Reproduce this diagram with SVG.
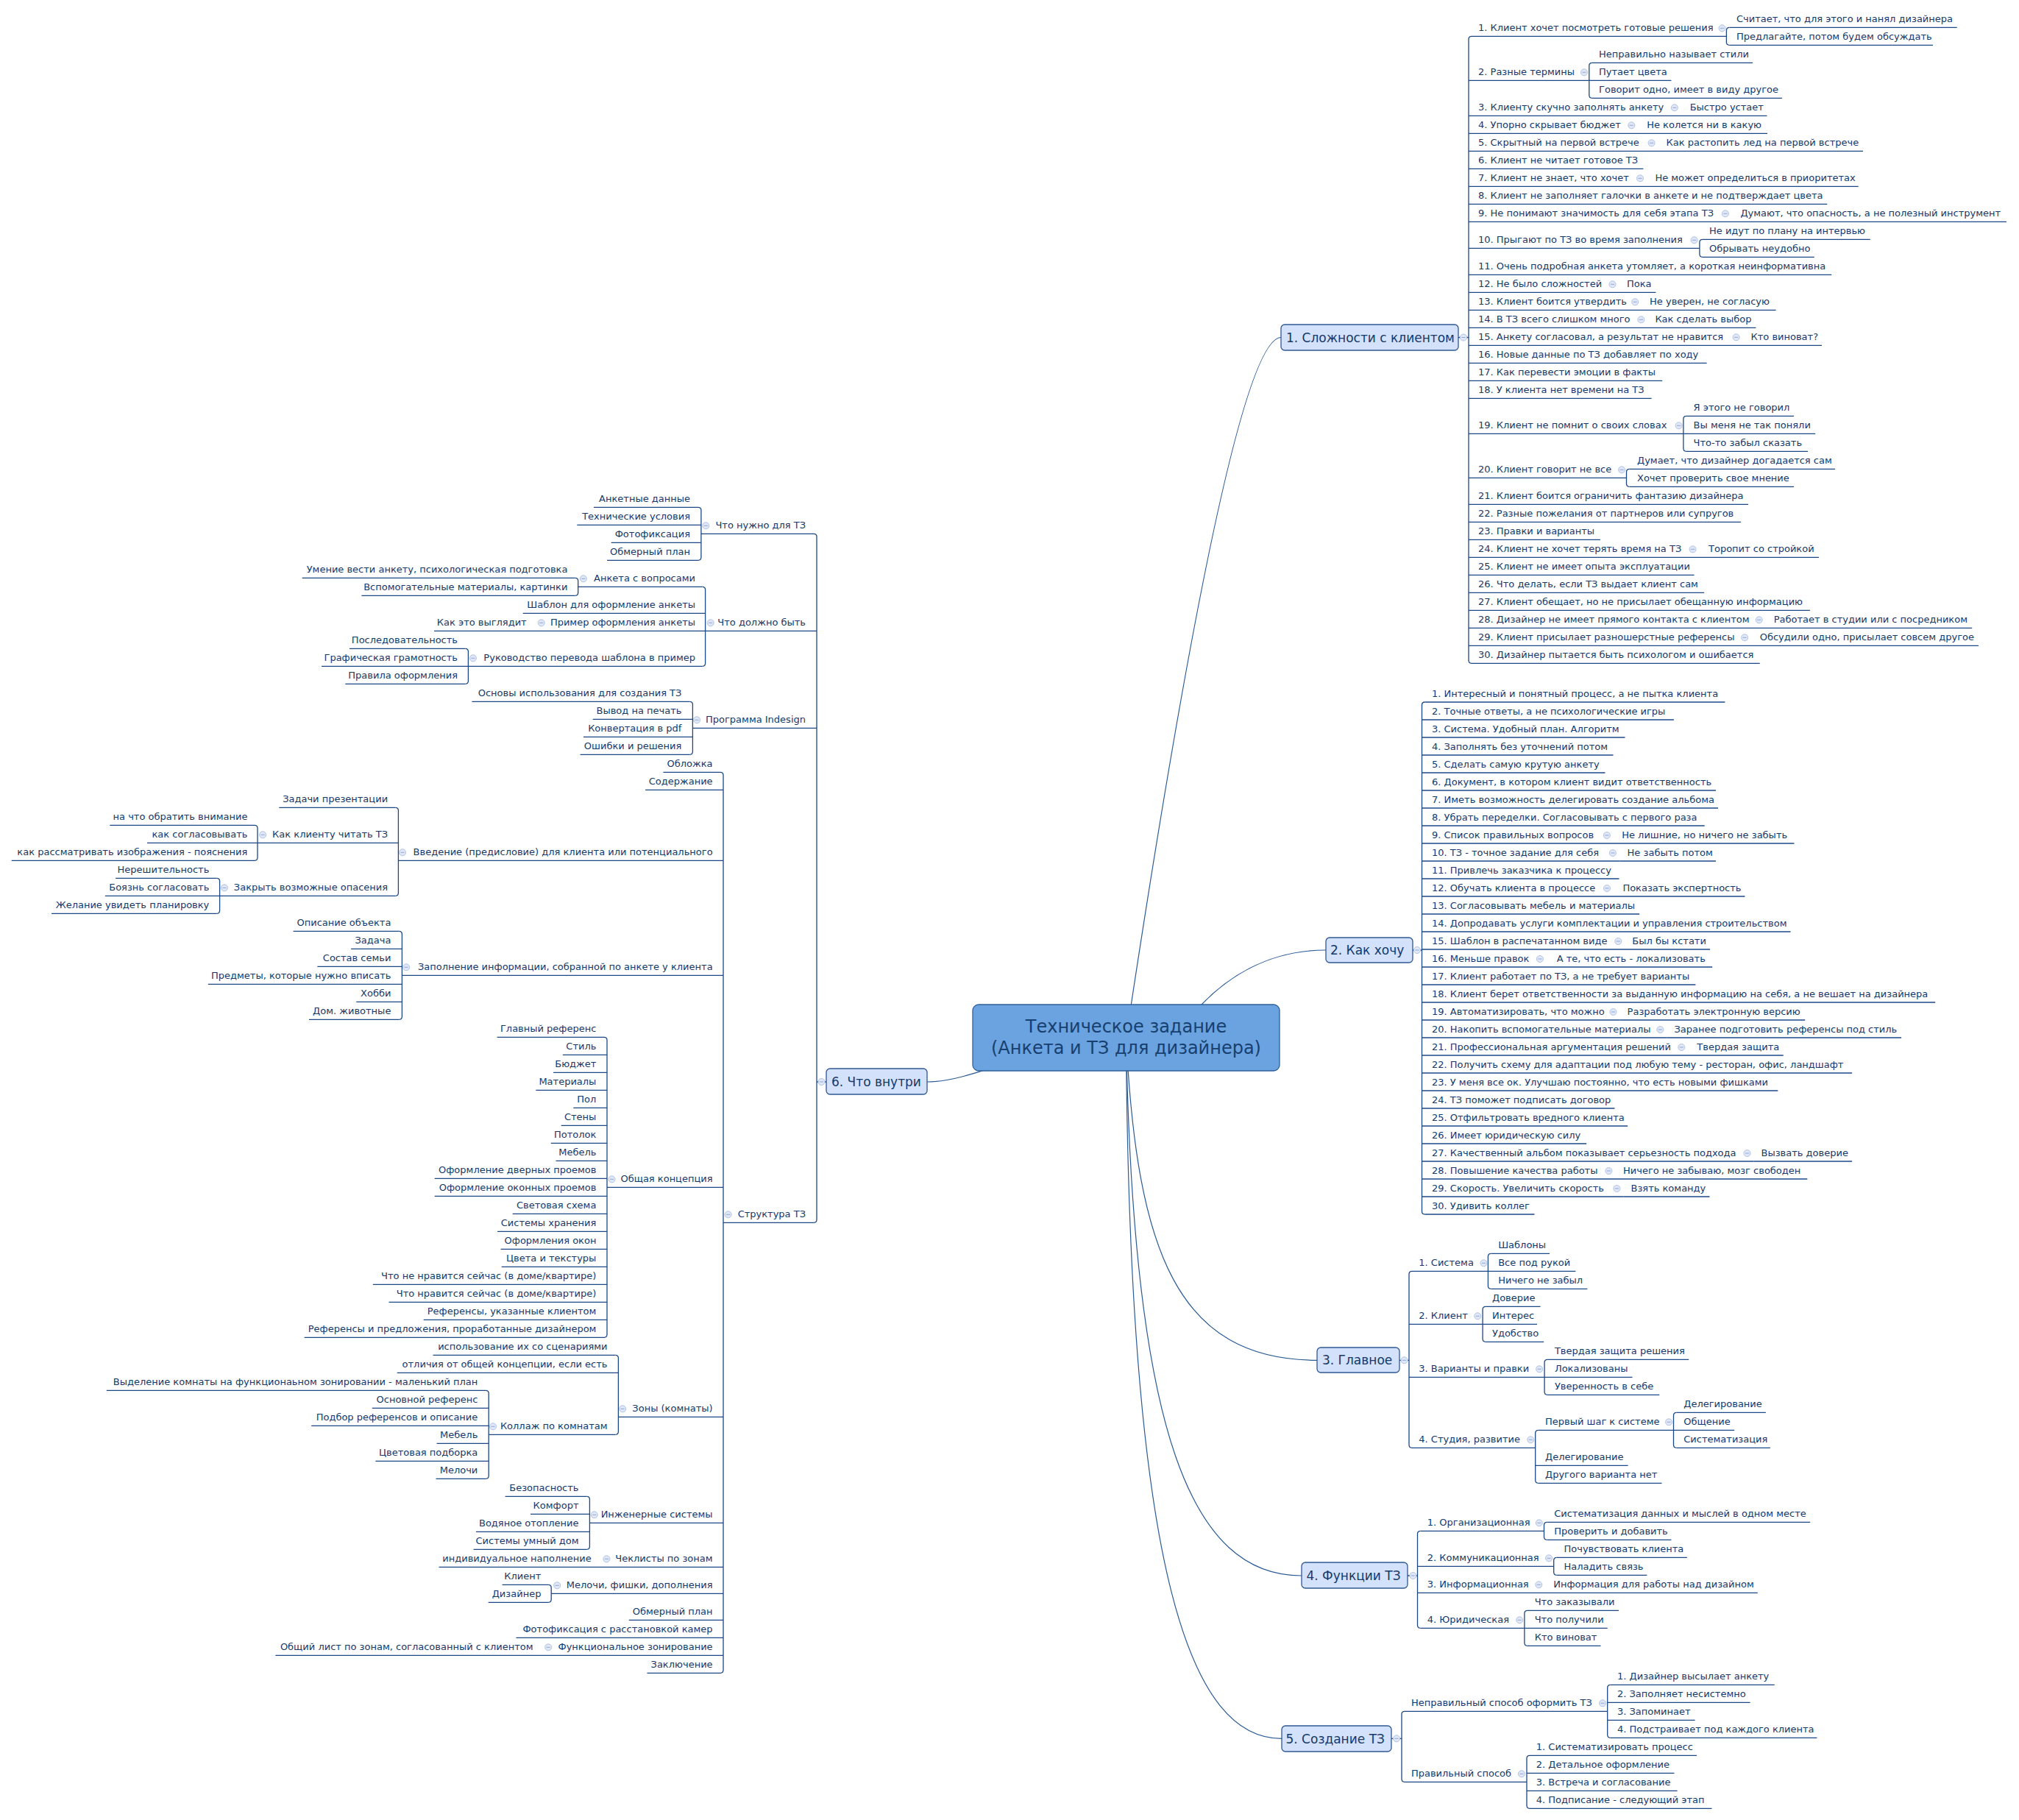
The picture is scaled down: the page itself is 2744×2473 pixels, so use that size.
<svg xmlns="http://www.w3.org/2000/svg" xmlns:xlink="http://www.w3.org/1999/xlink" width="2744" height="2473" viewBox="0 0 2744 2473">
<style>
.t{font-family:"DejaVu Sans",Verdana,sans-serif;font-size:13px;fill:#15396b}
.r{text-anchor:end}
.bt{font-family:"DejaVu Sans",Verdana,sans-serif;font-size:17px;fill:#15396b}
.rt{font-family:"DejaVu Sans",Verdana,sans-serif;font-size:24px;fill:#173f6f;text-anchor:middle}
.u,.v{fill:none;stroke:#1c4886;stroke-width:1.3}
.k{fill:none;stroke:#2b5b97;stroke-width:1.2}
.bn{fill:#d4e1fa;stroke:#2f5894;stroke-width:1.3}
.rn{fill:#6aa3df;stroke:#2f5f9a;stroke-width:1.3}
</style>
<defs>
<g id="cb"><circle r="4.5" fill="#e0e8f8" stroke="#b0c2e3" stroke-width="1"/><path d="M-2.5 0H2.5" stroke="#8fa6d4" stroke-width="1"/></g>
</defs>
<rect width="2744" height="2473" fill="#ffffff"/>
<g id="connectors">
<path class="k" d="M1530.5 1410Q1674 458.5 1741 458.5"/>
<path class="k" d="M1600 1400L1633 1365C1665 1332 1720 1291 1802 1291"/>
<path class="k" d="M1530.5 1410C1545 1700 1600 1848.3 1790 1848.3"/>
<path class="k" d="M1530.5 1410C1540 1950 1620 2141 1769 2141"/>
<path class="k" d="M1530.5 1410C1535 2150 1620 2362.3 1742 2362.3"/>
<path class="k" d="M1530.5 1410C1420 1410 1330 1470 1260 1470"/>
<path class="v" d="M1982 458.5H1996M2000 49.3Q1996 49.3 1996 53.3V897.3Q1996 901.3 2000 901.3"/>
<path class="v" d="M2350.4 37.3Q2346.4 37.3 2346.4 41.3V57.3Q2346.4 61.3 2350.4 61.3"/>
<path class="v" d="M2163.8 85.3Q2159.8 85.3 2159.8 89.3V129.3Q2159.8 133.3 2163.8 133.3"/>
<path class="v" d="M2313.9 325.3Q2309.9 325.3 2309.9 329.3V345.3Q2309.9 349.3 2313.9 349.3"/>
<path class="v" d="M2291.9 565.3Q2287.9 565.3 2287.9 569.3V609.3Q2287.9 613.3 2291.9 613.3"/>
<path class="v" d="M2214.5 637.3Q2210.5 637.3 2210.5 641.3V657.3Q2210.5 661.3 2214.5 661.3"/>
<path class="v" d="M1920 1291H1932.5M1936.5 954Q1932.5 954 1932.5 958V1646Q1932.5 1650 1936.5 1650"/>
<path class="v" d="M1902 1848.3H1915M1919 1727.3Q1915 1727.3 1915 1731.3V1963.3Q1915 1967.3 1919 1967.3"/>
<path class="v" d="M2026.4 1703.3Q2022.4 1703.3 2022.4 1707.3V1747.3Q2022.4 1751.3 2026.4 1751.3"/>
<path class="v" d="M2019.1 1775.3Q2015.1 1775.3 2015.1 1779.3V1819.3Q2015.1 1823.3 2019.1 1823.3"/>
<path class="v" d="M2103.1 1847.3Q2099.1 1847.3 2099.1 1851.3V1891.3Q2099.1 1895.3 2103.1 1895.3"/>
<path class="v" d="M2090.7 1943.3Q2086.7 1943.3 2086.7 1947.3V2011.3Q2086.7 2015.3 2090.7 2015.3"/>
<path class="v" d="M2278.5 1919.3Q2274.5 1919.3 2274.5 1923.3V1963.3Q2274.5 1967.3 2278.5 1967.3"/>
<path class="v" d="M1913 2141H1926.5M1930.5 2080.3Q1926.5 2080.3 1926.5 2084.3V2208.3Q1926.5 2212.3 1930.5 2212.3"/>
<path class="v" d="M2102.5 2068.3Q2098.5 2068.3 2098.5 2072.3V2088.3Q2098.5 2092.3 2102.5 2092.3"/>
<path class="v" d="M2115.7 2116.3Q2111.7 2116.3 2111.7 2120.3V2136.3Q2111.7 2140.3 2115.7 2140.3"/>
<path class="v" d="M2075.9 2188.3Q2071.9 2188.3 2071.9 2192.3V2232.3Q2071.9 2236.3 2075.9 2236.3"/>
<path class="v" d="M1891 2362.3H1905M1909 2325.3Q1905 2325.3 1905 2329.3V2417.3Q1905 2421.3 1909 2421.3"/>
<path class="v" d="M2188.7 2289.3Q2184.7 2289.3 2184.7 2293.3V2357.3Q2184.7 2361.3 2188.7 2361.3"/>
<path class="v" d="M2079 2385.3Q2075 2385.3 2075 2389.3V2453.3Q2075 2457.3 2079 2457.3"/>
<path class="v" d="M1123 1470H1110M1106 725.3Q1110 725.3 1110 729.3V1657.3Q1110 1661.3 1106 1661.3"/>
<path class="v" d="M948.9 689.3Q952.9 689.3 952.9 693.3V757.3Q952.9 761.3 948.9 761.3"/>
<path class="v" d="M954.6 797.3Q958.6 797.3 958.6 801.3V901.3Q958.6 905.3 954.6 905.3"/>
<path class="v" d="M781.7 785.3Q785.7 785.3 785.7 789.3V805.3Q785.7 809.3 781.7 809.3"/>
<path class="v" d="M632.4 881.3Q636.4 881.3 636.4 885.3V925.3Q636.4 929.3 632.4 929.3"/>
<path class="v" d="M937.4 953.3Q941.4 953.3 941.4 957.3V1021.3Q941.4 1025.3 937.4 1025.3"/>
<path class="v" d="M979 1049.3Q983 1049.3 983 1053.3V2269.3Q983 2273.3 979 2273.3"/>
<path class="v" d="M537.4 1097.3Q541.4 1097.3 541.4 1101.3V1213.3Q541.4 1217.3 537.4 1217.3"/>
<path class="v" d="M346 1121.3Q350 1121.3 350 1125.3V1165.3Q350 1169.3 346 1169.3"/>
<path class="v" d="M294.6 1193.3Q298.6 1193.3 298.6 1197.3V1237.3Q298.6 1241.3 294.6 1241.3"/>
<path class="v" d="M542.4 1265.3Q546.4 1265.3 546.4 1269.3V1381.3Q546.4 1385.3 542.4 1385.3"/>
<path class="v" d="M821 1409.3Q825 1409.3 825 1413.3V1813.3Q825 1817.3 821 1817.3"/>
<path class="v" d="M836.4 1841.3Q840.4 1841.3 840.4 1845.3V1945.3Q840.4 1949.3 836.4 1949.3"/>
<path class="v" d="M660.2 1889.3Q664.2 1889.3 664.2 1893.3V2005.3Q664.2 2009.3 660.2 2009.3"/>
<path class="v" d="M797.4 2033.3Q801.4 2033.3 801.4 2037.3V2101.3Q801.4 2105.3 797.4 2105.3"/>
<path class="v" d="M745.2 2153.3Q749.2 2153.3 749.2 2157.3V2173.3Q749.2 2177.3 745.2 2177.3"/>
</g>
<g id="root"><rect class="rn" x="1322" y="1365" width="417" height="90" rx="8"/><text class="rt" x="1530.5" y="1403">Техническое задание</text><text class="rt" x="1530.5" y="1432">(Анкета и ТЗ для дизайнера)</text></g>
<g id="b1"><rect class="bn" x="1741" y="441" width="241" height="35" rx="5"/><text class="bt" x="1748" y="464.5">1. Сложности с клиентом</text><use href="#cb" x="1989" y="458.5"/></g>
<g id="b1-1"><text class="t" x="2009" y="42.3">1. Клиент хочет посмотреть готовые решения</text><use href="#cb" x="2340.5" y="38.3"/><path class="u" d="M2000 49.3H2346.4"/></g>
<g id="b1-1-1"><text class="t" x="2360" y="30.3">Считает, что для этого и нанял дизайнера</text><path class="u" d="M2350.4 37.3H2659.7"/></g>
<g id="b1-1-2"><text class="t" x="2360" y="54.3">Предлагайте, потом будем обсуждать</text><path class="u" d="M2350.4 61.3H2627"/></g>
<g id="b1-2"><text class="t" x="2009" y="102.3">2. Разные термины</text><use href="#cb" x="2153" y="98.3"/><path class="u" d="M1996 109.3H2159.8"/></g>
<g id="b1-2-1"><text class="t" x="2173" y="78.3">Неправильно называет стили</text><path class="u" d="M2163.8 85.3H2382"/></g>
<g id="b1-2-2"><text class="t" x="2173" y="102.3">Путает цвета</text><path class="u" d="M2159.8 109.3H2271.4"/></g>
<g id="b1-2-3"><text class="t" x="2173" y="126.3">Говорит одно, имеет в виду другое</text><path class="u" d="M2163.8 133.3H2421.9"/></g>
<g id="b1-3"><text class="t" x="2009" y="150.3">3. Клиенту скучно заполнять анкету</text><use href="#cb" x="2275.8" y="146.3"/><path class="u" d="M1996 157.3H2287"/></g>
<g id="b1-3-1"><text class="t" x="2296.7" y="150.3">Быстро устает</text><path class="u" d="M2287 157.3H2401.5"/></g>
<g id="b1-4"><text class="t" x="2009" y="174.3">4. Упорно скрывает бюджет</text><use href="#cb" x="2217.3" y="170.3"/><path class="u" d="M1996 181.3H2228"/></g>
<g id="b1-4-1"><text class="t" x="2238.2" y="174.3">Не колется ни в какую</text><path class="u" d="M2228 181.3H2402"/></g>
<g id="b1-5"><text class="t" x="2009" y="198.3">5. Скрытный на первой встрече</text><use href="#cb" x="2244.6" y="194.3"/><path class="u" d="M1996 205.3H2254"/></g>
<g id="b1-5-1"><text class="t" x="2264.5" y="198.3">Как растопить лед на первой встрече</text><path class="u" d="M2254 205.3H2532"/></g>
<g id="b1-6"><text class="t" x="2009" y="222.3">6. Клиент не читает готовое ТЗ</text><path class="u" d="M1996 229.3H2233.4"/></g>
<g id="b1-7"><text class="t" x="2009" y="246.3">7. Клиент не знает, что хочет</text><use href="#cb" x="2229" y="242.3"/><path class="u" d="M1996 253.3H2239"/></g>
<g id="b1-7-1"><text class="t" x="2249.4" y="246.3">Не может определиться в приоритетах</text><path class="u" d="M2239 253.3H2525.7"/></g>
<g id="b1-8"><text class="t" x="2009" y="270.3">8. Клиент не заполняет галочки в анкете и не подтверждает цвета</text><path class="u" d="M1996 277.3H2483.3"/></g>
<g id="b1-9"><text class="t" x="2009" y="294.3">9. Не понимают значимость для себя этапа ТЗ</text><use href="#cb" x="2344.9" y="290.3"/><path class="u" d="M1996 301.3H2355"/></g>
<g id="b1-9-1"><text class="t" x="2365.4" y="294.3">Думают, что опасность, а не полезный инструмент</text><path class="u" d="M2355 301.3H2726.9"/></g>
<g id="b1-10"><text class="t" x="2009" y="330.3">10. Прыгают по ТЗ во время заполнения</text><use href="#cb" x="2302.6" y="326.3"/><path class="u" d="M1996 337.3H2309.9"/></g>
<g id="b1-10-1"><text class="t" x="2323" y="318.3">Не идут по плану на интервью</text><path class="u" d="M2313.9 325.3H2541.8"/></g>
<g id="b1-10-2"><text class="t" x="2323" y="342.3">Обрывать неудобно</text><path class="u" d="M2313.9 349.3H2465.8"/></g>
<g id="b1-11"><text class="t" x="2009" y="366.3">11. Очень подробная анкета утомляет, а короткая неинформативна</text><path class="u" d="M1996 373.3H2489.2"/></g>
<g id="b1-12"><text class="t" x="2009" y="390.3">12. Не было сложностей</text><use href="#cb" x="2191.5" y="386.3"/><path class="u" d="M1996 397.3H2201"/></g>
<g id="b1-12-1"><text class="t" x="2211" y="390.3">Пока</text><path class="u" d="M2201 397.3H2250.4"/></g>
<g id="b1-13"><text class="t" x="2009" y="414.3">13. Клиент боится утвердить</text><use href="#cb" x="2222.2" y="410.3"/><path class="u" d="M1996 421.3H2232"/></g>
<g id="b1-13-1"><text class="t" x="2242.1" y="414.3">Не уверен, не согласую</text><path class="u" d="M2232 421.3H2413.6"/></g>
<g id="b1-14"><text class="t" x="2009" y="438.3">14. В ТЗ всего слишком много</text><use href="#cb" x="2230.4" y="434.3"/><path class="u" d="M1996 445.3H2239"/></g>
<g id="b1-14-1"><text class="t" x="2249.4" y="438.3">Как сделать выбор</text><path class="u" d="M2239 445.3H2386.4"/></g>
<g id="b1-15"><text class="t" x="2009" y="462.3">15. Анкету согласовал, а результат не нравится</text><use href="#cb" x="2359.6" y="458.3"/><path class="u" d="M1996 469.3H2369"/></g>
<g id="b1-15-1"><text class="t" x="2379.5" y="462.3">Кто виноват?</text><path class="u" d="M2369 469.3H2476"/></g>
<g id="b1-16"><text class="t" x="2009" y="486.3">16. Новые данные по ТЗ добавляет по ходу</text><path class="u" d="M1996 493.3H2319.6"/></g>
<g id="b1-17"><text class="t" x="2009" y="510.3">17. Как перевести эмоции в факты</text><path class="u" d="M1996 517.3H2259.2"/></g>
<g id="b1-18"><text class="t" x="2009" y="534.3">18. У клиента нет времени на ТЗ</text><path class="u" d="M1996 541.3H2244.6"/></g>
<g id="b1-19"><text class="t" x="2009" y="582.3">19. Клиент не помнит о своих словах</text><use href="#cb" x="2281.6" y="578.3"/><path class="u" d="M1996 589.3H2287.9"/></g>
<g id="b1-19-1"><text class="t" x="2301.6" y="558.3">Я этого не говорил</text><path class="u" d="M2291.9 565.3H2438"/></g>
<g id="b1-19-2"><text class="t" x="2301.6" y="582.3">Вы меня не так поняли</text><path class="u" d="M2287.9 589.3H2467.2"/></g>
<g id="b1-19-3"><text class="t" x="2301.6" y="606.3">Что-то забыл сказать</text><path class="u" d="M2291.9 613.3H2457"/></g>
<g id="b1-20"><text class="t" x="2009" y="642.3">20. Клиент говорит не все</text><use href="#cb" x="2204.1" y="638.3"/><path class="u" d="M1996 649.3H2210.5"/></g>
<g id="b1-20-1"><text class="t" x="2225" y="630.3">Думает, что дизайнер догадается сам</text><path class="u" d="M2214.5 637.3H2494"/></g>
<g id="b1-20-2"><text class="t" x="2225" y="654.3">Хочет проверить свое мнение</text><path class="u" d="M2214.5 661.3H2438"/></g>
<g id="b1-21"><text class="t" x="2009" y="678.3">21. Клиент боится ограничить фантазию дизайнера</text><path class="u" d="M1996 685.3H2376.1"/></g>
<g id="b1-22"><text class="t" x="2009" y="702.3">22. Разные пожелания от партнеров или супругов</text><path class="u" d="M1996 709.3H2365.9"/></g>
<g id="b1-23"><text class="t" x="2009" y="726.3">23. Правки и варианты</text><path class="u" d="M1996 733.3H2174.9"/></g>
<g id="b1-24"><text class="t" x="2009" y="750.3">24. Клиент не хочет терять время на ТЗ</text><use href="#cb" x="2300.6" y="746.3"/><path class="u" d="M1996 757.3H2311"/></g>
<g id="b1-24-1"><text class="t" x="2322" y="750.3">Торопит со стройкой</text><path class="u" d="M2311 757.3H2472.1"/></g>
<g id="b1-25"><text class="t" x="2009" y="774.3">25. Клиент не имеет опыта эксплуатации</text><path class="u" d="M1996 781.3H2302.6"/></g>
<g id="b1-26"><text class="t" x="2009" y="798.3">26. Что делать, если ТЗ выдает клиент сам</text><path class="u" d="M1996 805.3H2316.2"/></g>
<g id="b1-27"><text class="t" x="2009" y="822.3">27. Клиент обещает, но не присылает обещанную информацию</text><path class="u" d="M1996 829.3H2459.9"/></g>
<g id="b1-28"><text class="t" x="2009" y="846.3">28. Дизайнер не имеет прямого контакта с клиентом</text><use href="#cb" x="2390.7" y="842.3"/><path class="u" d="M1996 853.3H2400"/></g>
<g id="b1-28-1"><text class="t" x="2410.7" y="846.3">Работает в студии или с посредником</text><path class="u" d="M2400 853.3H2680.2"/></g>
<g id="b1-29"><text class="t" x="2009" y="870.3">29. Клиент присылает разношерстные референсы</text><use href="#cb" x="2371.2" y="866.3"/><path class="u" d="M1996 877.3H2381"/></g>
<g id="b1-29-1"><text class="t" x="2391.7" y="870.3">Обсудили одно, присылает совсем другое</text><path class="u" d="M2381 877.3H2688.9"/></g>
<g id="b1-30"><text class="t" x="2009" y="894.3">30. Дизайнер пытается быть психологом и ошибается</text><path class="u" d="M2000 901.3H2391.7"/></g>
<g id="b2"><rect class="bn" x="1802" y="1274" width="118" height="34" rx="5"/><text class="bt" x="1808" y="1297">2. Как хочу</text><use href="#cb" x="1926" y="1291"/></g>
<g id="b2-1"><text class="t" x="1946" y="947">1. Интересный и понятный процесс, а не пытка клиента</text><path class="u" d="M1936.5 954H2344.4"/></g>
<g id="b2-2"><text class="t" x="1946" y="971">2. Точные ответы, а не психологические игры</text><path class="u" d="M1932.5 978H2274.9"/></g>
<g id="b2-3"><text class="t" x="1946" y="995">3. Система. Удобный план. Алгоритм</text><path class="u" d="M1932.5 1002H2208.5"/></g>
<g id="b2-4"><text class="t" x="1946" y="1019">4. Заполнять без уточнений потом</text><path class="u" d="M1932.5 1026H2192.5"/></g>
<g id="b2-5"><text class="t" x="1946" y="1043">5. Сделать самую крутую анкету</text><path class="u" d="M1932.5 1050H2181.5"/></g>
<g id="b2-6"><text class="t" x="1946" y="1067">6. Документ, в котором клиент видит ответственность</text><path class="u" d="M1932.5 1074H2332"/></g>
<g id="b2-7"><text class="t" x="1946" y="1091">7. Иметь возможность делегировать создание альбома</text><path class="u" d="M1932.5 1098H2335"/></g>
<g id="b2-8"><text class="t" x="1946" y="1115">8. Убрать переделки. Согласовывать с первого раза</text><path class="u" d="M1932.5 1122H2316.7"/></g>
<g id="b2-9"><text class="t" x="1946" y="1139">9. Список правильных вопросов</text><use href="#cb" x="2183.9" y="1135"/><path class="u" d="M1932.5 1146H2194"/></g>
<g id="b2-9-1"><text class="t" x="2204.2" y="1139">Не лишние, но ничего не забыть</text><path class="u" d="M2194 1146H2438.4"/></g>
<g id="b2-10"><text class="t" x="1946" y="1163">10. ТЗ - точное задание для себя</text><use href="#cb" x="2191.9" y="1159"/><path class="u" d="M1932.5 1170H2201.5"/></g>
<g id="b2-10-1"><text class="t" x="2211.6" y="1163">Не забыть потом</text><path class="u" d="M2201.5 1170H2332"/></g>
<g id="b2-11"><text class="t" x="1946" y="1187">11. Привлечь заказчика к процессу</text><path class="u" d="M1932.5 1194H2200.5"/></g>
<g id="b2-12"><text class="t" x="1946" y="1211">12. Обучать клиента в процессе</text><use href="#cb" x="2184" y="1207"/><path class="u" d="M1932.5 1218H2195"/></g>
<g id="b2-12-1"><text class="t" x="2205.4" y="1211">Показать экспертность</text><path class="u" d="M2195 1218H2371.4"/></g>
<g id="b2-13"><text class="t" x="1946" y="1235">13. Согласовывать мебель и материалы</text><path class="u" d="M1932.5 1242H2228.2"/></g>
<g id="b2-14"><text class="t" x="1946" y="1259">14. Допродавать услуги комплектации и управления строительством</text><path class="u" d="M1932.5 1266H2433.5"/></g>
<g id="b2-15"><text class="t" x="1946" y="1283">15. Шаблон в распечатанном виде</text><use href="#cb" x="2199.3" y="1279"/><path class="u" d="M1932.5 1290H2208"/></g>
<g id="b2-15-1"><text class="t" x="2218.3" y="1283">Был бы кстати</text><path class="u" d="M2208 1290H2324.1"/></g>
<g id="b2-16"><text class="t" x="1946" y="1307">16. Меньше правок</text><use href="#cb" x="2092.9" y="1303"/><path class="u" d="M1932.5 1314H2104"/></g>
<g id="b2-16-1"><text class="t" x="2115.7" y="1307">А те, что есть - локализовать</text><path class="u" d="M2104 1314H2327.2"/></g>
<g id="b2-17"><text class="t" x="1946" y="1331">17. Клиент работает по ТЗ, а не требует варианты</text><path class="u" d="M1932.5 1338H2304.4"/></g>
<g id="b2-18"><text class="t" x="1946" y="1355">18. Клиент берет ответственности за выданную информацию на себя, а не вешает на дизайнера</text><path class="u" d="M1932.5 1362H2630.2"/></g>
<g id="b2-19"><text class="t" x="1946" y="1379">19. Автоматизировать, что можно</text><use href="#cb" x="2192.5" y="1375"/><path class="u" d="M1932.5 1386H2201.5"/></g>
<g id="b2-19-1"><text class="t" x="2211.6" y="1379">Разработать электронную версию</text><path class="u" d="M2201.5 1386H2453.2"/></g>
<g id="b2-20"><text class="t" x="1946" y="1403">20. Накопить вспомогательные материалы</text><use href="#cb" x="2256.4" y="1399"/><path class="u" d="M1932.5 1410H2265.5"/></g>
<g id="b2-20-1"><text class="t" x="2275.5" y="1403">Заранее подготовить референсы под стиль</text><path class="u" d="M2265.5 1410H2584.1"/></g>
<g id="b2-21"><text class="t" x="1946" y="1427">21. Профессиональная аргументация решений</text><use href="#cb" x="2285.3" y="1423"/><path class="u" d="M1932.5 1434H2296"/></g>
<g id="b2-21-1"><text class="t" x="2306.3" y="1427">Твердая защита</text><path class="u" d="M2296 1434H2423.7"/></g>
<g id="b2-22"><text class="t" x="1946" y="1451">22. Получить схему для адаптации под любую тему - ресторан, офис, ландшафт</text><path class="u" d="M1932.5 1458H2517.1"/></g>
<g id="b2-23"><text class="t" x="1946" y="1475">23. У меня все ок. Улучшаю постоянно, что есть новыми фишками</text><path class="u" d="M1932.5 1482H2416.3"/></g>
<g id="b2-24"><text class="t" x="1946" y="1499">24. ТЗ поможет подписать договор</text><path class="u" d="M1932.5 1506H2194.4"/></g>
<g id="b2-25"><text class="t" x="1946" y="1523">25. Отфильтровать вредного клиента</text><path class="u" d="M1932.5 1530H2212.2"/></g>
<g id="b2-26"><text class="t" x="1946" y="1547">26. Имеет юридическую силу</text><path class="u" d="M1932.5 1554H2156.2"/></g>
<g id="b2-27"><text class="t" x="1946" y="1571">27. Качественный альбом показывает серьезность подхода</text><use href="#cb" x="2374.5" y="1567"/><path class="u" d="M1932.5 1578H2383.5"/></g>
<g id="b2-27-1"><text class="t" x="2393.5" y="1571">Вызвать доверие</text><path class="u" d="M2383.5 1578H2517.1"/></g>
<g id="b2-28"><text class="t" x="1946" y="1595">28. Повышение качества работы</text><use href="#cb" x="2186.4" y="1591"/><path class="u" d="M1932.5 1602H2196"/></g>
<g id="b2-28-1"><text class="t" x="2206" y="1595">Ничего не забываю, мозг свободен</text><path class="u" d="M2196 1602H2456.3"/></g>
<g id="b2-29"><text class="t" x="1946" y="1619">29. Скорость. Увеличить скорость</text><use href="#cb" x="2197.4" y="1615"/><path class="u" d="M1932.5 1626H2206.5"/></g>
<g id="b2-29-1"><text class="t" x="2216.5" y="1619">Взять команду</text><path class="u" d="M2206.5 1626H2323.5"/></g>
<g id="b2-30"><text class="t" x="1946" y="1643">30. Удивить коллег</text><path class="u" d="M1936.5 1650H2085.5"/></g>
<g id="b3"><rect class="bn" x="1790" y="1831" width="112" height="34" rx="5"/><text class="bt" x="1797" y="1854">3. Главное</text><use href="#cb" x="1908.6" y="1848.3"/></g>
<g id="b3-1"><text class="t" x="1928.3" y="1720.3">1. Система</text><use href="#cb" x="2016.5" y="1716.3"/><path class="u" d="M1919 1727.3H2022.4"/></g>
<g id="b3-1-1"><text class="t" x="2036.2" y="1696.3">Шаблоны</text><path class="u" d="M2026.4 1703.3H2106"/></g>
<g id="b3-1-2"><text class="t" x="2036.2" y="1720.3">Все под рукой</text><path class="u" d="M2022.4 1727.3H2141.4"/></g>
<g id="b3-1-3"><text class="t" x="2036.2" y="1744.3">Ничего не забыл</text><path class="u" d="M2026.4 1751.3H2157.4"/></g>
<g id="b3-2"><text class="t" x="1928.3" y="1792.3">2. Клиент</text><use href="#cb" x="2008.2" y="1788.3"/><path class="u" d="M1915 1799.3H2015.1"/></g>
<g id="b3-2-1"><text class="t" x="2028" y="1768.3">Доверие</text><path class="u" d="M2019.1 1775.3H2093.6"/></g>
<g id="b3-2-2"><text class="t" x="2028" y="1792.3">Интерес</text><path class="u" d="M2015.1 1799.3H2089"/></g>
<g id="b3-2-3"><text class="t" x="2028" y="1816.3">Удобство</text><path class="u" d="M2019.1 1823.3H2098.2"/></g>
<g id="b3-3"><text class="t" x="1928.3" y="1864.3">3. Варианты и правки</text><use href="#cb" x="2092.2" y="1860.3"/><path class="u" d="M1915 1871.3H2099.1"/></g>
<g id="b3-3-1"><text class="t" x="2112.9" y="1840.3">Твердая защита решения</text><path class="u" d="M2103.1 1847.3H2295.2"/></g>
<g id="b3-3-2"><text class="t" x="2112.9" y="1864.3">Локализованы</text><path class="u" d="M2099.1 1871.3H2218.5"/></g>
<g id="b3-3-3"><text class="t" x="2112.9" y="1888.3">Уверенность в себе</text><path class="u" d="M2103.1 1895.3H2255.3"/></g>
<g id="b3-4"><text class="t" x="1928.3" y="1960.3">4. Студия, развитие</text><use href="#cb" x="2080.3" y="1956.3"/><path class="u" d="M1919 1967.3H2086.7"/></g>
<g id="b3-4-1"><text class="t" x="2100" y="1936.3">Первый шаг к системе</text><use href="#cb" x="2268.1" y="1932.3"/><path class="u" d="M2090.7 1943.3H2274.5"/></g>
<g id="b3-4-1-1"><text class="t" x="2288.3" y="1912.3">Делегирование</text><path class="u" d="M2278.5 1919.3H2399.9"/></g>
<g id="b3-4-1-2"><text class="t" x="2288.3" y="1936.3">Общение</text><path class="u" d="M2274.5 1943.3H2357.2"/></g>
<g id="b3-4-1-3"><text class="t" x="2288.3" y="1960.3">Систематизация</text><path class="u" d="M2278.5 1967.3H2405.9"/></g>
<g id="b3-4-2"><text class="t" x="2100" y="1984.3">Делегирование</text><path class="u" d="M2086.7 1991.3H2212.6"/></g>
<g id="b3-4-3"><text class="t" x="2100" y="2008.3">Другого варианта нет</text><path class="u" d="M2090.7 2015.3H2258.5"/></g>
<g id="b4"><rect class="bn" x="1769" y="2123" width="144" height="35" rx="5"/><text class="bt" x="1775.5" y="2147">4. Функции ТЗ</text><use href="#cb" x="1920.4" y="2141"/></g>
<g id="b4-1"><text class="t" x="1939.8" y="2073.3">1. Организационная</text><use href="#cb" x="2091.8" y="2069.3"/><path class="u" d="M1930.5 2080.3H2098.5"/></g>
<g id="b4-1-1"><text class="t" x="2112.2" y="2061.3">Систематизация данных и мыслей в одном месте</text><path class="u" d="M2102.5 2068.3H2460.2"/></g>
<g id="b4-1-2"><text class="t" x="2112.2" y="2085.3">Проверить и добавить</text><path class="u" d="M2102.5 2092.3H2271.4"/></g>
<g id="b4-2"><text class="t" x="1939.8" y="2121.3">2. Коммуникационная</text><use href="#cb" x="2105.1" y="2117.3"/><path class="u" d="M1926.5 2128.3H2111.7"/></g>
<g id="b4-2-1"><text class="t" x="2125.5" y="2109.3">Почувствовать клиента</text><path class="u" d="M2115.7 2116.3H2292.9"/></g>
<g id="b4-2-2"><text class="t" x="2125.5" y="2133.3">Наладить связь</text><path class="u" d="M2115.7 2140.3H2238.3"/></g>
<g id="b4-3"><text class="t" x="1939.8" y="2157.3">3. Информационная</text><use href="#cb" x="2091.3" y="2153.3"/><path class="u" d="M1926.5 2164.3H2101"/></g>
<g id="b4-3-1"><text class="t" x="2111.2" y="2157.3">Информация для работы над дизайном</text><path class="u" d="M2101 2164.3H2388.8"/></g>
<g id="b4-4"><text class="t" x="1939.8" y="2205.3">4. Юридическая</text><use href="#cb" x="2065.3" y="2201.3"/><path class="u" d="M1930.5 2212.3H2071.9"/></g>
<g id="b4-4-1"><text class="t" x="2085.7" y="2181.3">Что заказывали</text><path class="u" d="M2075.9 2188.3H2200"/></g>
<g id="b4-4-2"><text class="t" x="2085.7" y="2205.3">Что получили</text><path class="u" d="M2071.9 2212.3H2184.7"/></g>
<g id="b4-4-3"><text class="t" x="2085.7" y="2229.3">Кто виноват</text><path class="u" d="M2075.9 2236.3H2175.5"/></g>
<g id="b5"><rect class="bn" x="1742" y="2345" width="149" height="35" rx="5"/><text class="bt" x="1747.5" y="2368.5">5. Создание ТЗ</text><use href="#cb" x="1898" y="2362.3"/></g>
<g id="b5-1"><text class="t" x="1917.9" y="2318.3">Неправильный способ оформить ТЗ</text><use href="#cb" x="2178.1" y="2314.3"/><path class="u" d="M1909 2325.3H2184.7"/></g>
<g id="b5-1-1"><text class="t" x="2198" y="2282.3">1. Дизайнер высылает анкету</text><path class="u" d="M2188.7 2289.3H2411.7"/></g>
<g id="b5-1-2"><text class="t" x="2198" y="2306.3">2. Заполняет несистемно</text><path class="u" d="M2184.7 2313.3H2378.6"/></g>
<g id="b5-1-3"><text class="t" x="2198" y="2330.3">3. Запоминает</text><path class="u" d="M2184.7 2337.3H2303.6"/></g>
<g id="b5-1-4"><text class="t" x="2198" y="2354.3">4. Подстраивает под каждого клиента</text><path class="u" d="M2188.7 2361.3H2469.4"/></g>
<g id="b5-2"><text class="t" x="1917.9" y="2414.3">Правильный способ</text><use href="#cb" x="2067.9" y="2410.3"/><path class="u" d="M1909 2421.3H2075"/></g>
<g id="b5-2-1"><text class="t" x="2087.8" y="2378.3">1. Систематизировать процесс</text><path class="u" d="M2079 2385.3H2306.1"/></g>
<g id="b5-2-2"><text class="t" x="2087.8" y="2402.3">2. Детальное оформление</text><path class="u" d="M2075 2409.3H2275.5"/></g>
<g id="b5-2-3"><text class="t" x="2087.8" y="2426.3">3. Встреча и согласование</text><path class="u" d="M2075 2433.3H2279.6"/></g>
<g id="b5-2-4"><text class="t" x="2087.8" y="2450.3">4. Подписание - следующий этап</text><path class="u" d="M2079 2457.3H2326.5"/></g>
<g id="b6"><rect class="bn" x="1123" y="1452" width="137" height="35" rx="5"/><text class="bt" x="1130" y="1475.5">6. Что внутри</text><use href="#cb" x="1116.5" y="1470"/></g>
<g id="b6-1"><text class="t r" x="1095" y="718.3">Что нужно для ТЗ</text><use href="#cb" x="959.3" y="714.3"/><path class="u" d="M952.9 725.3H1106"/></g>
<g id="b6-1-1"><text class="t r" x="938" y="682.3">Анкетные данные</text><path class="u" d="M807 689.3H948.9"/></g>
<g id="b6-1-2"><text class="t r" x="938" y="706.3">Технические условия</text><path class="u" d="M784.3 713.3H952.9"/></g>
<g id="b6-1-3"><text class="t r" x="938" y="730.3">Фотофиксация</text><path class="u" d="M830.7 737.3H952.9"/></g>
<g id="b6-1-4"><text class="t r" x="938" y="754.3">Обмерный план</text><path class="u" d="M825 761.3H948.9"/></g>
<g id="b6-2"><text class="t r" x="1095" y="850.3">Что должно быть</text><use href="#cb" x="965.7" y="846.3"/><path class="u" d="M958.6 857.3H1110"/></g>
<g id="b6-2-1"><text class="t r" x="945" y="790.3">Анкета с вопросами</text><use href="#cb" x="792.9" y="786.3"/><path class="u" d="M785.7 797.3H954.6"/></g>
<g id="b6-2-1-1"><text class="t r" x="771.4" y="778.3">Умение вести анкету, психологическая подготовка</text><path class="u" d="M410.7 785.3H781.7"/></g>
<g id="b6-2-1-2"><text class="t r" x="771.4" y="802.3">Вспомогательные материалы, картинки</text><path class="u" d="M491.4 809.3H781.7"/></g>
<g id="b6-2-2"><text class="t r" x="945" y="826.3">Шаблон для оформление анкеты</text><path class="u" d="M710.7 833.3H958.6"/></g>
<g id="b6-2-3"><text class="t r" x="945" y="850.3">Пример оформления анкеты</text><use href="#cb" x="735.7" y="846.3"/><path class="u" d="M726 857.3H958.6"/></g>
<g id="b6-2-3-1"><text class="t r" x="715.7" y="850.3">Как это выглядит</text><path class="u" d="M590 857.3H726"/></g>
<g id="b6-2-4"><text class="t r" x="945" y="898.3">Руководство перевода шаблона в пример</text><use href="#cb" x="642.9" y="894.3"/><path class="u" d="M636.4 905.3H954.6"/></g>
<g id="b6-2-4-1"><text class="t r" x="622" y="874.3">Последовательность</text><path class="u" d="M475 881.3H632.4"/></g>
<g id="b6-2-4-2"><text class="t r" x="622" y="898.3">Графическая грамотность</text><path class="u" d="M437 905.3H636.4"/></g>
<g id="b6-2-4-3"><text class="t r" x="622" y="922.3">Правила оформления</text><path class="u" d="M469.3 929.3H632.4"/></g>
<g id="b6-3"><text class="t r" x="1095" y="982.3">Программа Indesign</text><use href="#cb" x="947.1" y="978.3"/><path class="u" d="M941.4 989.3H1110"/></g>
<g id="b6-3-1"><text class="t r" x="926.4" y="946.3">Основы использования для создания ТЗ</text><path class="u" d="M641.4 953.3H937.4"/></g>
<g id="b6-3-2"><text class="t r" x="926.4" y="970.3">Вывод на печать</text><path class="u" d="M805.7 977.3H941.4"/></g>
<g id="b6-3-3"><text class="t r" x="926.4" y="994.3">Конвертация в pdf</text><path class="u" d="M792.9 1001.3H941.4"/></g>
<g id="b6-3-4"><text class="t r" x="926.4" y="1018.3">Ошибки и решения</text><path class="u" d="M788.6 1025.3H937.4"/></g>
<g id="b6-4"><text class="t r" x="1095" y="1654.3">Структура ТЗ</text><use href="#cb" x="989.6" y="1650.3"/><path class="u" d="M983 1661.3H1106"/></g>
<g id="b6-4-1"><text class="t r" x="968.6" y="1042.3">Обложка</text><path class="u" d="M901.4 1049.3H979"/></g>
<g id="b6-4-2"><text class="t r" x="968.6" y="1066.3">Содержание</text><path class="u" d="M877.1 1073.3H983"/></g>
<g id="b6-4-3"><text class="t r" x="968.6" y="1162.3">Введение (предисловие) для клиента или потенциального</text><use href="#cb" x="547.1" y="1158.3"/><path class="u" d="M541.4 1169.3H983"/></g>
<g id="b6-4-3-1"><text class="t r" x="527.1" y="1090.3">Задачи презентации</text><path class="u" d="M379.3 1097.3H537.4"/></g>
<g id="b6-4-3-2"><text class="t r" x="527.1" y="1138.3">Как клиенту читать ТЗ</text><use href="#cb" x="357.1" y="1134.3"/><path class="u" d="M350 1145.3H541.4"/></g>
<g id="b6-4-3-2-1"><text class="t r" x="336.4" y="1114.3">на что обратить внимание</text><path class="u" d="M149.3 1121.3H346"/></g>
<g id="b6-4-3-2-2"><text class="t r" x="336.4" y="1138.3">как согласовывать</text><path class="u" d="M200 1145.3H350"/></g>
<g id="b6-4-3-2-3"><text class="t r" x="336.4" y="1162.3">как рассматривать изображения - пояснения</text><path class="u" d="M15.7 1169.3H346"/></g>
<g id="b6-4-3-3"><text class="t r" x="527.1" y="1210.3">Закрыть возможные опасения</text><use href="#cb" x="305" y="1206.3"/><path class="u" d="M298.6 1217.3H537.4"/></g>
<g id="b6-4-3-3-1"><text class="t r" x="284.3" y="1186.3">Нерешительность</text><path class="u" d="M157.1 1193.3H294.6"/></g>
<g id="b6-4-3-3-2"><text class="t r" x="284.3" y="1210.3">Боязнь согласовать</text><path class="u" d="M142.9 1217.3H298.6"/></g>
<g id="b6-4-3-3-3"><text class="t r" x="284.3" y="1234.3">Желание увидеть планировку</text><path class="u" d="M70 1241.3H294.6"/></g>
<g id="b6-4-4"><text class="t r" x="968.6" y="1318.3">Заполнение информации, собранной по анкете у клиента</text><use href="#cb" x="552.1" y="1314.3"/><path class="u" d="M546.4 1325.3H983"/></g>
<g id="b6-4-4-1"><text class="t r" x="531.4" y="1258.3">Описание объекта</text><path class="u" d="M398.6 1265.3H542.4"/></g>
<g id="b6-4-4-2"><text class="t r" x="531.4" y="1282.3">Задача</text><path class="u" d="M477.1 1289.3H546.4"/></g>
<g id="b6-4-4-3"><text class="t r" x="531.4" y="1306.3">Состав семьи</text><path class="u" d="M431.4 1313.3H546.4"/></g>
<g id="b6-4-4-4"><text class="t r" x="531.4" y="1330.3">Предметы, которые нужно вписать</text><path class="u" d="M282.9 1337.3H546.4"/></g>
<g id="b6-4-4-5"><text class="t r" x="531.4" y="1354.3">Хобби</text><path class="u" d="M484.3 1361.3H546.4"/></g>
<g id="b6-4-4-6"><text class="t r" x="531.4" y="1378.3">Дом. животные</text><path class="u" d="M420 1385.3H542.4"/></g>
<g id="b6-4-5"><text class="t r" x="968.6" y="1606.3">Общая концепция</text><use href="#cb" x="831.5" y="1602.3"/><path class="u" d="M825 1613.3H983"/></g>
<g id="b6-4-5-1"><text class="t r" x="810.4" y="1402.3">Главный референс</text><path class="u" d="M675.6 1409.3H821"/></g>
<g id="b6-4-5-2"><text class="t r" x="810.4" y="1426.3">Стиль</text><path class="u" d="M764.9 1433.3H825"/></g>
<g id="b6-4-5-3"><text class="t r" x="810.4" y="1450.3">Бюджет</text><path class="u" d="M752.1 1457.3H825"/></g>
<g id="b6-4-5-4"><text class="t r" x="810.4" y="1474.3">Материалы</text><path class="u" d="M728.3 1481.3H825"/></g>
<g id="b6-4-5-5"><text class="t r" x="810.4" y="1498.3">Пол</text><path class="u" d="M779.3 1505.3H825"/></g>
<g id="b6-4-5-6"><text class="t r" x="810.4" y="1522.3">Стены</text><path class="u" d="M762.7 1529.3H825"/></g>
<g id="b6-4-5-7"><text class="t r" x="810.4" y="1546.3">Потолок</text><path class="u" d="M748.8 1553.3H825"/></g>
<g id="b6-4-5-8"><text class="t r" x="810.4" y="1570.3">Мебель</text><path class="u" d="M755.5 1577.3H825"/></g>
<g id="b6-4-5-9"><text class="t r" x="810.4" y="1594.3">Оформление дверных проемов</text><path class="u" d="M590.7 1601.3H825"/></g>
<g id="b6-4-5-10"><text class="t r" x="810.4" y="1618.3">Оформление оконных проемов</text><path class="u" d="M590.7 1625.3H825"/></g>
<g id="b6-4-5-11"><text class="t r" x="810.4" y="1642.3">Световая схема</text><path class="u" d="M696.7 1649.3H825"/></g>
<g id="b6-4-5-12"><text class="t r" x="810.4" y="1666.3">Системы хранения</text><path class="u" d="M676.1 1673.3H825"/></g>
<g id="b6-4-5-13"><text class="t r" x="810.4" y="1690.3">Оформления окон</text><path class="u" d="M680.6 1697.3H825"/></g>
<g id="b6-4-5-14"><text class="t r" x="810.4" y="1714.3">Цвета и текстуры</text><path class="u" d="M681.7 1721.3H825"/></g>
<g id="b6-4-5-15"><text class="t r" x="810.4" y="1738.3">Что не нравится сейчас (в доме/квартире)</text><path class="u" d="M506.9 1745.3H825"/></g>
<g id="b6-4-5-16"><text class="t r" x="810.4" y="1762.3">Что нравится сейчас (в доме/квартире)</text><path class="u" d="M528.5 1769.3H825"/></g>
<g id="b6-4-5-17"><text class="t r" x="810.4" y="1786.3">Референсы, указанные клиентом</text><path class="u" d="M575.7 1793.3H825"/></g>
<g id="b6-4-5-18"><text class="t r" x="810.4" y="1810.3">Референсы и предложения, проработанные дизайнером</text><path class="u" d="M413.7 1817.3H821"/></g>
<g id="b6-4-6"><text class="t r" x="968.6" y="1918.3">Зоны (комнаты)</text><use href="#cb" x="846.2" y="1914.3"/><path class="u" d="M840.4 1925.3H983"/></g>
<g id="b6-4-6-1"><text class="t r" x="825.5" y="1834.3">использование их со сценариями</text><path class="u" d="M588.5 1841.3H836.4"/></g>
<g id="b6-4-6-2"><text class="t r" x="825.5" y="1858.3">отличия от общей концепции, если есть</text><path class="u" d="M539.7 1865.3H840.4"/></g>
<g id="b6-4-6-3"><text class="t r" x="825.5" y="1942.3">Коллаж по комнатам</text><use href="#cb" x="670" y="1938.3"/><path class="u" d="M664.2 1949.3H836.4"/></g>
<g id="b6-4-6-3-1"><text class="t r" x="649.3" y="1882.3">Выделение комнаты на функционаьном зонировании - маленький план</text><path class="u" d="M144.8 1889.3H660.2"/></g>
<g id="b6-4-6-3-2"><text class="t r" x="649.3" y="1906.3">Основной референс</text><path class="u" d="M505.8 1913.3H664.2"/></g>
<g id="b6-4-6-3-3"><text class="t r" x="649.3" y="1930.3">Подбор референсов и описание</text><path class="u" d="M423.2 1937.3H664.2"/></g>
<g id="b6-4-6-3-4"><text class="t r" x="649.3" y="1954.3">Мебель</text><path class="u" d="M593.6 1961.3H664.2"/></g>
<g id="b6-4-6-3-5"><text class="t r" x="649.3" y="1978.3">Цветовая подборка</text><path class="u" d="M510.4 1985.3H664.2"/></g>
<g id="b6-4-6-3-6"><text class="t r" x="649.3" y="2002.3">Мелочи</text><path class="u" d="M592.5 2009.3H660.2"/></g>
<g id="b6-4-7"><text class="t r" x="968.6" y="2062.3">Инженерные системы</text><use href="#cb" x="807.7" y="2058.3"/><path class="u" d="M801.4 2069.3H983"/></g>
<g id="b6-4-7-1"><text class="t r" x="786.5" y="2026.3">Безопасность</text><path class="u" d="M686.6 2033.3H797.4"/></g>
<g id="b6-4-7-2"><text class="t r" x="786.5" y="2050.3">Комфорт</text><path class="u" d="M721 2057.3H801.4"/></g>
<g id="b6-4-7-3"><text class="t r" x="786.5" y="2074.3">Водяное отопление</text><path class="u" d="M647 2081.3H801.4"/></g>
<g id="b6-4-7-4"><text class="t r" x="786.5" y="2098.3">Системы умный дом</text><path class="u" d="M643.6 2105.3H797.4"/></g>
<g id="b6-4-8"><text class="t r" x="968.6" y="2122.3">Чеклисты по зонам</text><use href="#cb" x="824.4" y="2118.3"/><path class="u" d="M815 2129.3H983"/></g>
<g id="b6-4-8-1"><text class="t r" x="803.7" y="2122.3">индивидуальное наполнение</text><path class="u" d="M596.5 2129.3H815"/></g>
<g id="b6-4-9"><text class="t r" x="968.6" y="2158.3">Мелочи, фишки, дополнения</text><use href="#cb" x="757.2" y="2154.3"/><path class="u" d="M749.2 2165.3H983"/></g>
<g id="b6-4-9-1"><text class="t r" x="735.4" y="2146.3">Клиент</text><path class="u" d="M682.6 2153.3H745.2"/></g>
<g id="b6-4-9-2"><text class="t r" x="735.4" y="2170.3">Дизайнер</text><path class="u" d="M663.7 2177.3H745.2"/></g>
<g id="b6-4-10"><text class="t r" x="968.6" y="2194.3">Обмерный план</text><path class="u" d="M854.8 2201.3H983"/></g>
<g id="b6-4-11"><text class="t r" x="968.6" y="2218.3">Фотофиксация с расстановкой камер</text><path class="u" d="M701.5 2225.3H983"/></g>
<g id="b6-4-12"><text class="t r" x="968.6" y="2242.3">Функциональное зонирование</text><use href="#cb" x="745.2" y="2238.3"/><path class="u" d="M737 2249.3H983"/></g>
<g id="b6-4-12-1"><text class="t r" x="724.5" y="2242.3">Общий лист по зонам, согласованный с клиентом</text><path class="u" d="M374.4 2249.3H737"/></g>
<g id="b6-4-13"><text class="t r" x="968.6" y="2266.3">Заключение</text><path class="u" d="M879.5 2273.3H979"/></g>
</svg>
